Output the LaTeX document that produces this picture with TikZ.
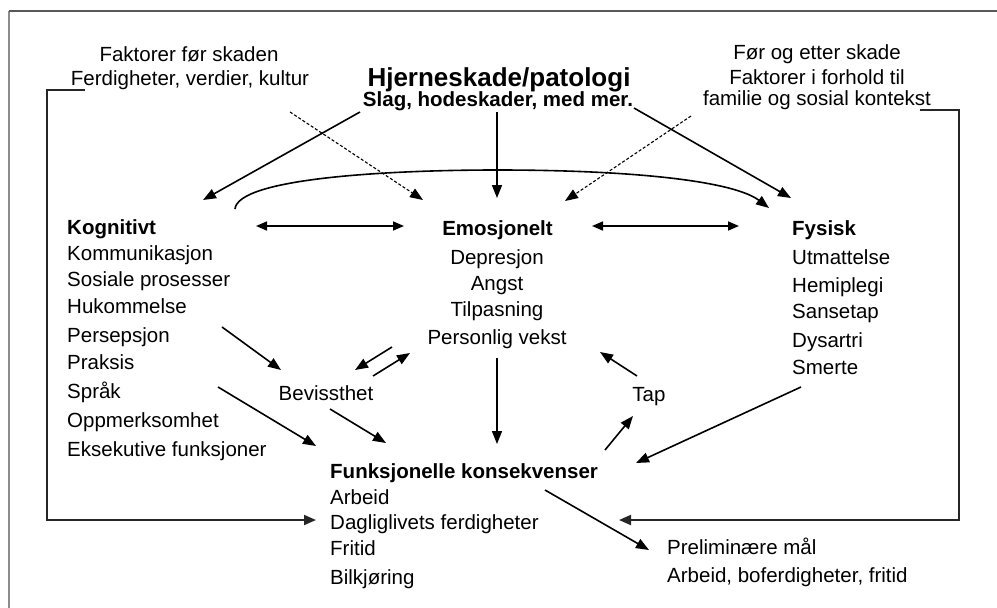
\documentclass[tikz,border=0pt]{standalone}
\usepackage{fontspec}
\setmainfont{Liberation Sans}
\usetikzlibrary{arrows.meta}
\begin{document}
\begin{tikzpicture}[x=1pt,y=-1pt,
  txt/.style={font=\fontsize{20.5}{24}\selectfont, inner sep=0pt},
  btxt/.style={font=\fontsize{20.5}{24}\selectfont\bfseries, inner sep=0pt},
  ttl/.style={font=\fontsize{26}{30}\selectfont\bfseries, inner sep=0pt},
  arr/.style={line width=1.6pt, -{Triangle[length=13pt,width=10pt]}},
  darr/.style={line width=1.6pt, {Triangle[length=11pt,width=9pt]}-{Triangle[length=11pt,width=9pt]}},
  dasharr/.style={line width=1.1pt, dash pattern=on 3pt off 2pt, -{Triangle[length=13pt,width=10pt]}},
  brk/.style={line width=1.9pt, draw=black!85, -{Triangle[length=12pt,width=10pt]}}]
\useasboundingbox (0,0) rectangle (997,608);
% frame
\draw[line width=2pt, draw=black!45] (9,608) -- (9,11);
\draw[line width=1.5pt, draw=black!65] (9,11) -- (997,11);

% top texts
\node[txt, anchor=base] (fa1) at (189,61.5) {Faktorer før skaden};
\node[txt, anchor=base] (fa2) at (190,85.5) {Ferdigheter, verdier, kultur};
\node[ttl, anchor=base] (hj) at (499,86) {Hjerneskade/patologi};
\node[btxt, anchor=base] (sl) at (498,106.5) {Slag, hodeskader, med mer.};
\node[txt, anchor=base] (fo1) at (817,59.5) {Før og etter skade};
\node[txt, anchor=base] (fo2) at (817,84.5) {Faktorer i forhold til};
\node[txt, anchor=base] (fo3) at (817,105.5) {familie og sosial kontekst};

% Kognitivt
\node[btxt, anchor=base west] (kog) at (67,234.5) {Kognitivt};
\node[txt, anchor=base west] (k1) at (67,260.5) {Kommunikasjon};
\node[txt, anchor=base west] (k2) at (67,286.5) {Sosiale prosesser};
\node[txt, anchor=base west] (k3) at (67,313.5) {Hukommelse};
\node[txt, anchor=base west] (k4) at (67,342.5) {Persepsjon};
\node[txt, anchor=base west] (k5) at (67,369.5) {Praksis};
\node[txt, anchor=base west] (k6) at (67,398.5) {Språk};
\node[txt, anchor=base west] (k7) at (67,427.5) {Oppmerksomhet};
\node[txt, anchor=base west] (k8) at (67,456.5) {Eksekutive funksjoner};

% Emosjonelt
\node[btxt, anchor=base] (emo) at (497.5,235.5) {Emosjonelt};
\node[txt, anchor=base] (e1) at (497,264.5) {Depresjon};
\node[txt, anchor=base] (e2) at (497,290.5) {Angst};
\node[txt, anchor=base] (e3) at (497,316.5) {Tilpasning};
\node[txt, anchor=base] (e4) at (497,344.5) {Personlig vekst};

% Fysisk
\node[btxt, anchor=base west] (fys) at (792,235.5) {Fysisk};
\node[txt, anchor=base west] (f1) at (792,264.5) {Utmattelse};
\node[txt, anchor=base west] (f2) at (792,292.5) {Hemiplegi};
\node[txt, anchor=base west] (f3) at (792,318.5) {Sansetap};
\node[txt, anchor=base west] (f4) at (792,347.5) {Dysartri};
\node[txt, anchor=base west] (f5) at (792,374.5) {Smerte};

% middle
\node[txt, anchor=base] (bev) at (326,400.5) {Bevissthet};
\node[txt, anchor=base] (tap) at (649,401.5) {Tap};

% Funksjonelle
\node[btxt, anchor=base west] (fun) at (330,478.5) {Funksjonelle konsekvenser};
\node[txt, anchor=base west] (u1) at (330,504.5) {Arbeid};
\node[txt, anchor=base west] (u2) at (330,529.5) {Dagliglivets ferdigheter};
\node[txt, anchor=base west] (u3) at (330,555.5) {Fritid};
\node[txt, anchor=base west] (u4) at (330,584.5) {Bilkjøring};

% Preliminære
\node[txt, anchor=base west] (p1) at (667,554.5) {Preliminære mål};
\node[txt, anchor=base west] (p2) at (667,582.5) {Arbeid, boferdigheter, fritid};

% coordinates
\coordinate (a1s) at (360,112); \coordinate (a1e) at (203,200);
\coordinate (a2s) at (290,112); \coordinate (a2e) at (423,200);
\coordinate (a3s) at (497,112); \coordinate (a3e) at (497,198);
\coordinate (a4s) at (634,108); \coordinate (a4e) at (791,198);
\coordinate (a5s) at (691,116); \coordinate (a5e) at (565,201);
\coordinate (cvs) at (235,209); \coordinate (cvm) at (497,170); \coordinate (cve) at (769,208);
\coordinate (d1s) at (256,226); \coordinate (d1e) at (404,226);
\coordinate (d2s) at (592,226); \coordinate (d2e) at (739,226);
\coordinate (b1s) at (222,327); \coordinate (b1e) at (281,370);
\coordinate (b2s) at (392,347); \coordinate (b2e) at (355,370);
\coordinate (b3s) at (373,376); \coordinate (b3e) at (410,353);
\coordinate (s1s) at (218,387); \coordinate (s1e) at (316,446);
\coordinate (s2s) at (330,409); \coordinate (s2e) at (386,443);
\coordinate (e4s) at (497,358); \coordinate (e4e) at (497,444);
\coordinate (t1s) at (605,450); \coordinate (t1e) at (633,416);
\coordinate (t2s) at (637,376); \coordinate (t2e) at (600,352);
\coordinate (smS) at (801,387); \coordinate (smE) at (636,463);
\coordinate (prS) at (545,490); \coordinate (prE) at (649,550);
\coordinate (lb1) at (85,90); \coordinate (lb2) at (47,90); \coordinate (lb3) at (47,520); \coordinate (lbE) at (316,520);
\coordinate (rb1) at (920,110); \coordinate (rb2) at (959,110); \coordinate (rb3) at (959,520); \coordinate (rbE) at (619,520);

% arrows
\draw[arr] (a1s) -- (a1e);
\draw[dasharr] (a2s) -- (a2e);
\draw[arr] (a3s) -- (a3e);
\draw[arr] (a4s) -- (a4e);
\draw[dasharr] (a5s) -- (a5e);
\draw[arr] (cvs) .. controls (238,178) and (390,170) .. (cvm) .. controls (640,170) and (735,182) .. (cve);
\draw[darr] (d1s) -- (d1e);
\draw[darr] (d2s) -- (d2e);
\draw[arr] (b1s) -- (b1e);
\draw[arr] (b2s) -- (b2e);
\draw[arr] (b3s) -- (b3e);
\draw[arr] (s1s) -- (s1e);
\draw[arr] (s2s) -- (s2e);
\draw[arr] (e4s) -- (e4e);
\draw[arr] (t1s) -- (t1e);
\draw[arr] (t2s) -- (t2e);
\draw[arr] (smS) -- (smE);
\draw[arr] (prS) -- (prE);
\draw[brk] (lb1) -- (lb2) -- (lb3) -- (lbE);
\draw[brk] (rb1) -- (rb2) -- (rb3) -- (rbE);
\end{tikzpicture}
\end{document}
